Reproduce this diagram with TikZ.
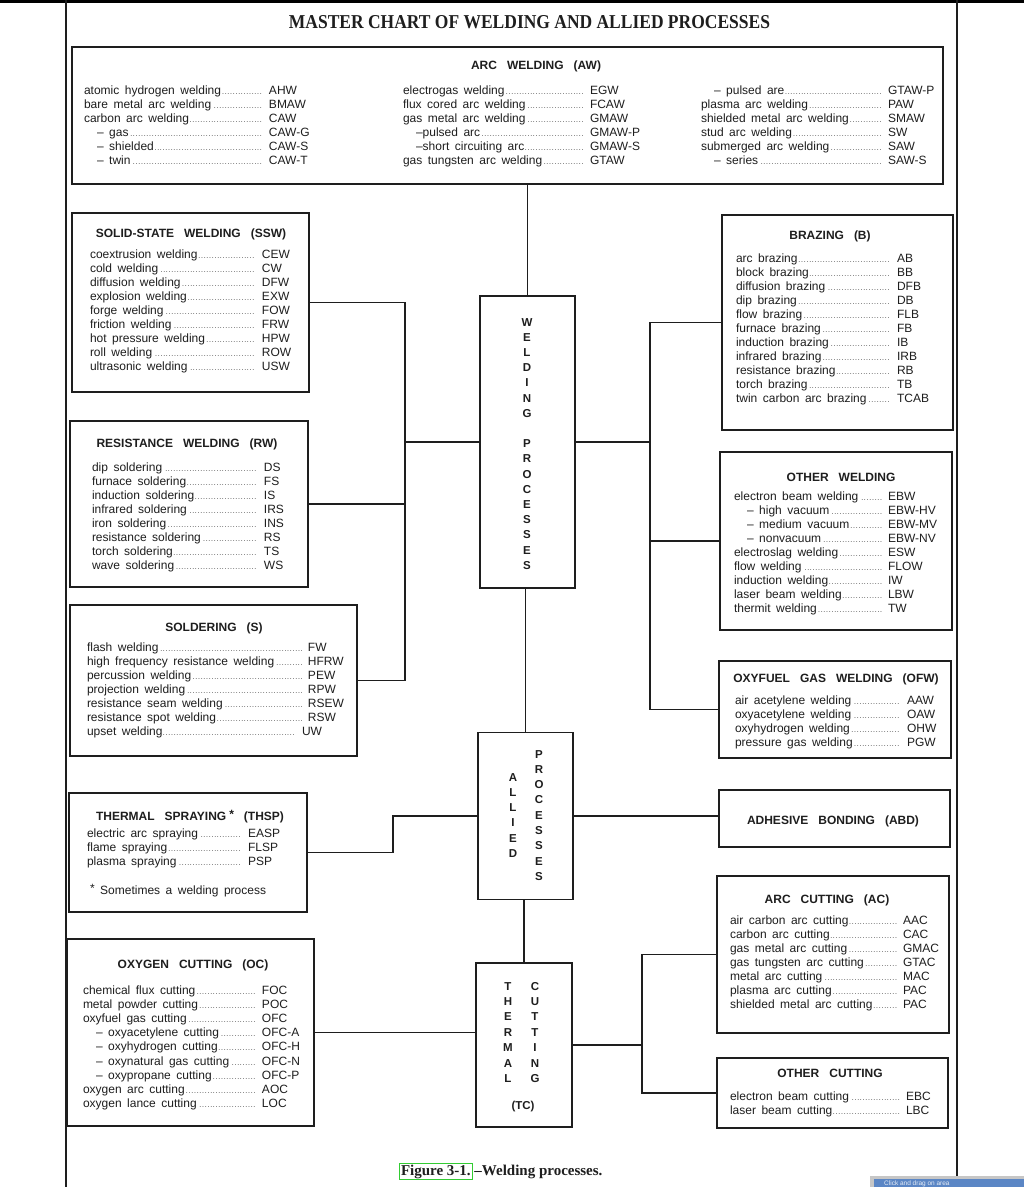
\documentclass[tikz,border=0pt]{standalone}
\usepackage{fontspec}
\setmainfont{Liberation Sans}
\newfontfamily\serifb{Liberation Serif}
\usepackage{graphicx}
\definecolor{ink}{HTML}{1E1E1E}
\definecolor{figgreen}{HTML}{33CC33}
\definecolor{hintblue}{HTML}{5B86C5}
\newlength\entw
\newcommand\dleaders{\leaders\hbox to 2.7pt{\hss\fontsize{7}{7}\selectfont.\hss}\hfill}
\newcommand\E[2]{\hbox{\hbox to \entw{#1\dleaders\kern5pt}#2}}
\newcommand\ind{\hspace*{13pt}}
\newcommand\dd{\textendash}
\newcommand\lstbox[3]{\vtop{\entw=#2\relax\baselineskip=#1\relax #3}}
\newcommand\lstfont{\fontsize{12}{14}\selectfont\spaceskip=5.5pt\relax}
\newcommand\titfont{\bfseries\fontsize{12}{14}\selectfont\spaceskip=10pt\relax}
\newcommand\capfont{\serifb\bfseries\fontsize{15}{17}\selectfont}
\makeatletter
\newcommand\vstack[2]{\vtop{\baselineskip=#1\relax\@tfor\vs@c:=#2\do{\hbox to 0pt{\hss\if\vs@c*\else\vs@c\fi\hss}}}}
\makeatother
\tikzset{
  bx/.style={draw=ink, line width=1.4pt, inner sep=0pt, outer sep=0pt},
  cn/.style={draw=ink, line width=1.3pt},
  lst/.style={anchor=base west, inner sep=0pt, outer sep=0pt, text=ink, font=\lstfont},
  tit/.style={anchor=base, inner sep=0pt, outer sep=0pt, text=ink, font=\titfont},
  vl/.style={anchor=base, inner sep=0pt, outer sep=0pt, text=ink,
    font=\bfseries\fontsize{11.5}{13}\selectfont}
}
\begin{document}
\begin{tikzpicture}[x=1pt,y=-1pt]
\useasboundingbox (0,0) rectangle (1024,1187);
\fill[white] (0,0) rectangle (1024,1187);
\fill[black] (0,0) rectangle (1024,3);
\draw[ink, line width=1.5pt] (66,0) -- (66,1187);
\draw[ink, line width=1.5pt] (957,0) -- (957,1187);

% title
\node[anchor=base, inner sep=0pt, text=ink] (title) at (529.5,28.5)
  {\resizebox{481pt}{13pt}{\serifb\bfseries MASTER CHART OF WELDING AND ALLIED PROCESSES}};

% boxes
\node[bx, minimum width=871pt, minimum height=137pt] (aw) at (507.5,115.5) {};
\node[bx, minimum width=237pt, minimum height=179pt] (ssw) at (190.5,302.5) {};
\node[bx, minimum width=238pt, minimum height=166pt] (rw) at (189,504) {};
\node[bx, minimum width=287pt, minimum height=151pt] (sold) at (213.5,680.5) {};
\node[bx, minimum width=238pt, minimum height=119pt] (thsp) at (188,852.5) {};
\node[bx, minimum width=247pt, minimum height=187pt] (oc) at (190.5,1032.5) {};
\node[bx, minimum width=95pt, minimum height=292pt] (wp) at (527.5,442) {};
\node[bx, minimum width=95pt, minimum height=167pt] (allied) at (525.5,816) {};
\node[bx, minimum width=96pt, minimum height=164pt] (tc) at (524,1045) {};
\node[bx, minimum width=231pt, minimum height=215pt] (braz) at (837.5,322.5) {};
\node[bx, minimum width=232pt, minimum height=178pt] (ow) at (836,541) {};
\node[bx, minimum width=232pt, minimum height=97pt] (ofw) at (835,709.5) {};
\node[bx, minimum width=231pt, minimum height=57pt] (abd) at (834.5,818.5) {};
\node[bx, minimum width=232pt, minimum height=157pt] (ac) at (833,954.5) {};
\node[bx, minimum width=231pt, minimum height=70pt] (othc) at (832.5,1093) {};

% connectors
\coordinate (ltr) at (405,0);
\coordinate (rtr) at (650,0);
\coordinate (ctr) at (642,0);
\coordinate (stp) at (393,0);
\draw[cn] (wp.north) -- (wp.north |- aw.south);
\draw[cn] (allied.north) -- (allied.north |- wp.south);
\draw[cn] (tc.north) -- (tc.north |- allied.south);
\draw[cn] (ssw.east) -- (ssw.east -| ltr) -- (sold.east -| ltr) -- (sold.east);
\draw[cn] (rw.east) -- (rw.east -| ltr);
\draw[cn] (wp.west) -- (wp.west -| ltr);
\draw[cn] (braz.west) -- (braz.west -| rtr) -- (ofw.west -| rtr) -- (ofw.west);
\draw[cn] (ow.west) -- (ow.west -| rtr);
\draw[cn] (wp.east) -- (wp.east -| rtr);
\draw[cn] (thsp.east) -- (thsp.east -| stp) -- (stp |- allied.west) -- (allied.west);
\draw[cn] (allied.east) -- (allied.east -| abd.west);
\draw[cn] (oc.east) -- (oc.east -| tc.west);
\draw[cn] (tc.east) -- (tc.east -| ctr);
\draw[cn] (ac.west) -- (ac.west -| ctr) -- (othc.west -| ctr) -- (othc.west);

% ARC WELDING
\node[tit] (awt) at (536,69) {ARC WELDING (AW)};
\node[lst] (awl1) at (84,94) {\lstbox{14pt}{185pt}{%
\E{atomic hydrogen welding}{AHW}
\E{bare metal arc welding}{BMAW}
\E{carbon arc welding}{CAW}
\E{\ind\dd{} gas}{CAW-G}
\E{\ind\dd{} shielded}{CAW-S}
\E{\ind\dd{} twin}{CAW-T}}};
\node[lst] (awl2) at (403,94) {\lstbox{14pt}{187pt}{%
\E{electrogas welding}{EGW}
\E{flux cored arc welding}{FCAW}
\E{gas metal arc welding}{GMAW}
\E{\ind\dd pulsed arc}{GMAW-P}
\E{\ind\dd short circuiting arc}{GMAW-S}
\E{gas tungsten arc welding}{GTAW}}};
\node[lst] (awl3) at (701,94) {\lstbox{14pt}{187pt}{%
\E{\ind\dd{} pulsed are}{GTAW-P}
\E{plasma arc welding}{PAW}
\E{shielded metal arc welding}{SMAW}
\E{stud arc welding}{SW}
\E{submerged arc welding}{SAW}
\E{\ind\dd{} series}{SAW-S}}};

% SSW
\node[tit] (sswt) at (191,237) {SOLID-STATE WELDING (SSW)};
\node[lst] (sswl) at (90,258) {\lstbox{14pt}{172pt}{%
\E{coextrusion welding}{CEW}
\E{cold welding}{CW}
\E{diffusion welding}{DFW}
\E{explosion welding}{EXW}
\E{forge welding}{FOW}
\E{friction welding}{FRW}
\E{hot pressure welding}{HPW}
\E{roll welding}{ROW}
\E{ultrasonic welding}{USW}}};

% RW
\node[tit] (rwt) at (187,447) {RESISTANCE WELDING (RW)};
\node[lst] (rwl) at (92,471) {\lstbox{14pt}{172pt}{%
\E{dip soldering}{DS}
\E{furnace soldering}{FS}
\E{induction soldering}{IS}
\E{infrared soldering}{IRS}
\E{iron soldering}{INS}
\E{resistance soldering}{RS}
\E{torch soldering}{TS}
\E{wave soldering}{WS}}};

% Soldering
\node[tit] (soldt) at (214,631) {SOLDERING (S)};
\node[lst] (soldl) at (87,651) {\lstbox{14pt}{221pt}{%
\E{flash welding}{FW}
\E{high frequency resistance welding}{HFRW}
\E{percussion welding}{PEW}
\E{projection welding}{RPW}
\E{resistance seam welding}{RSEW}
\E{resistance spot welding}{RSW}
\entw=215pt\E{upset welding}{UW}}};

% THSP
\node[tit] (thspt) at (190,820) {THERMAL SPRAYING\hspace{3pt}\raisebox{1.5pt}{*} (THSP)};
\node[lst] (thspl) at (87,837) {\lstbox{14pt}{161pt}{%
\E{electric arc spraying}{EASP}
\E{flame spraying}{FLSP}
\E{plasma spraying}{PSP}}};
\node[lst] (thspn) at (90,894) {\raisebox{1.5pt}{*} Sometimes a welding process};

% OC
\node[tit] (oct) at (193,968) {OXYGEN CUTTING (OC)};
\node[lst] (ocl) at (83,994) {\lstbox{14.2pt}{179pt}{%
\E{chemical flux cutting}{FOC}
\E{metal powder cutting}{POC}
\E{oxyfuel gas cutting}{OFC}
\E{\ind\dd{} oxyacetylene cutting}{OFC-A}
\E{\ind\dd{} oxyhydrogen cutting}{OFC-H}
\E{\ind\dd{} oxynatural gas cutting}{OFC-N}
\E{\ind\dd{} oxypropane cutting}{OFC-P}
\E{oxygen arc cutting}{AOC}
\E{oxygen lance cutting}{LOC}}};

% Brazing
\node[tit] (brazt) at (830,239) {BRAZING (B)};
\node[lst] (brazl) at (736,262) {\lstbox{14pt}{161pt}{%
\E{arc brazing}{AB}
\E{block brazing}{BB}
\E{diffusion brazing}{DFB}
\E{dip brazing}{DB}
\E{flow brazing}{FLB}
\E{furnace brazing}{FB}
\E{induction brazing}{IB}
\E{infrared brazing}{IRB}
\E{resistance brazing}{RB}
\E{torch brazing}{TB}
\E{twin carbon arc brazing}{TCAB}}};

% Other welding
\node[tit] (owt) at (841,481) {OTHER WELDING};
\node[lst] (owl) at (734,500) {\lstbox{14pt}{154pt}{%
\E{electron beam welding}{EBW}
\E{\ind\dd{} high vacuum}{EBW-HV}
\E{\ind\dd{} medium vacuum}{EBW-MV}
\E{\ind\dd{} nonvacuum}{EBW-NV}
\E{electroslag welding}{ESW}
\E{flow welding}{FLOW}
\E{induction welding}{IW}
\E{laser beam welding}{LBW}
\E{thermit welding}{TW}}};

% OFW
\node[tit] (ofwt) at (836,682) {OXYFUEL GAS WELDING (OFW)};
\node[lst] (ofwl) at (735,704) {\lstbox{14pt}{172pt}{%
\E{air acetylene welding}{AAW}
\E{oxyacetylene welding}{OAW}
\E{oxyhydrogen welding}{OHW}
\E{pressure gas welding}{PGW}}};

% ABD
\node[tit] (abdt) at (833,824) {ADHESIVE BONDING (ABD)};

% Arc cutting
\node[tit] (act) at (827,903) {ARC CUTTING (AC)};
\node[lst] (acl) at (730,924) {\lstbox{14pt}{173pt}{%
\E{air carbon arc cutting}{AAC}
\E{carbon arc cutting}{CAC}
\E{gas metal arc cutting}{GMAC}
\E{gas tungsten arc cutting}{GTAC}
\E{metal arc cutting}{MAC}
\E{plasma arc cutting}{PAC}
\E{shielded metal arc cutting}{PAC}}};

% Other cutting
\node[tit] (othct) at (830,1077) {OTHER CUTTING};
\node[lst] (othcl) at (730,1100) {\lstbox{14pt}{176pt}{%
\E{electron beam cutting}{EBC}
\E{laser beam cutting}{LBC}}};

% vertical labels
\node[vl] (wpl) at (527,326) {\vstack{15.2pt}{WELDING*PROCESSES}};
\node[vl] (all1) at (513,781) {\vstack{15.3pt}{ALLIED}};
\node[vl] (all2) at (539,758) {\vstack{15.3pt}{PROCESSES}};
\node[vl] (tc1) at (508,990) {\vstack{15.4pt}{THERMAL}};
\node[vl] (tc2) at (535,990) {\vstack{15.4pt}{CUTTING}};
\node[vl] (tc3) at (523,1109) {(TC)};

% caption
\node[anchor=base west, inner sep=1.5pt, draw=figgreen, line width=1pt, text=ink,
  font=\capfont] (figlbl) at (399,1175) {Figure 3-1.};
\node[anchor=base west, inner sep=0pt, text=ink,
  font=\capfont] (figcap) at ([xshift=1.5pt]figlbl.base east) {\textendash Welding processes.};

% viewer hint (partly off the page in the reference)
\fill[gray!45] (870,1176) rectangle (1024,1187);
\fill[hintblue] (874,1179) rectangle (1024,1187);
\node[anchor=base west, inner sep=0pt, text=white!85!hintblue, font=\fontsize{6.5}{7}\selectfont] (hint) at (884,1185.5) {Click and drag on area};
\end{tikzpicture}
\end{document}
